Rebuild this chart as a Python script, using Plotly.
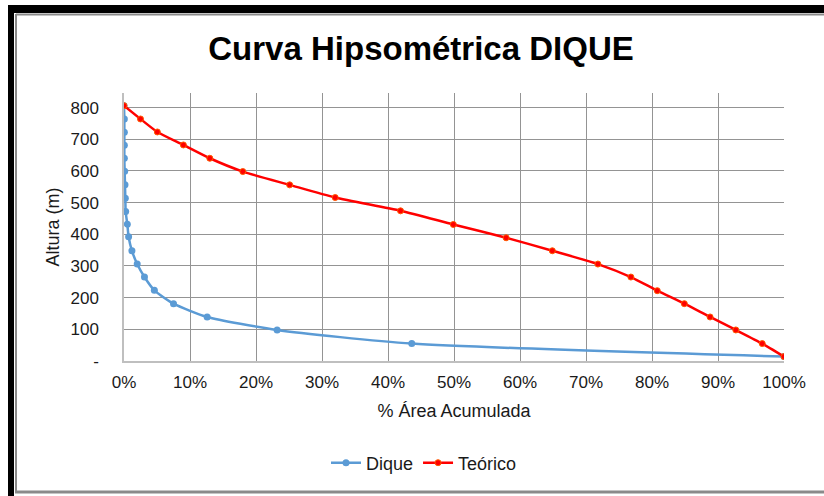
import plotly.graph_objects as go

# Heights (m)
alturas = [806, 764, 723, 682, 640, 598, 556, 516, 474, 431, 389, 348, 306, 265, 222, 181, 139, 98, 55, 14]
teorico_pct = [0, 2.5, 5.05, 9.0, 13.0, 18.0, 25.1, 32.0, 41.9, 49.9, 57.9, 64.9, 71.8, 76.8, 80.8, 84.9, 88.8, 92.7, 96.7, 100]

dique_alt = [806, 764, 722, 681, 640, 599, 556, 514, 472, 432, 392, 348, 306, 265, 223, 181, 139, 98, 55, 14]
dique_pct = [0.0, 0.05, 0.05, 0.05, 0.05, 0.1, 0.15, 0.2, 0.25, 0.5, 0.7, 1.2, 2.0, 3.1, 4.6, 7.5, 12.6, 23.2, 43.6, 100.0]

y_ticks = [0, 100, 200, 300, 400, 500, 600, 700, 800]
y_labels = ["-", "100", "200", "300", "400", "500", "600", "700", "800"]
x_ticks = [0, 10, 20, 30, 40, 50, 60, 70, 80, 90, 100]
x_labels = [f"{v}%" for v in x_ticks]

FONT = "Liberation Sans, Arial, sans-serif"
BLUE = "#5B9BD5"
RED = "#FF0000"

fig = go.Figure()
fig.add_trace(go.Scatter(
    x=dique_pct, y=dique_alt, name="Dique", mode="lines+markers",
    line=dict(color=BLUE, width=2.5, shape="spline", smoothing=0.6),
    marker=dict(color=BLUE, size=7, symbol="circle"),
))
fig.add_trace(go.Scatter(
    x=teorico_pct, y=alturas, name="Teórico", mode="lines+markers",
    line=dict(color=RED, width=2.5, shape="spline", smoothing=0.6),
    marker=dict(color=RED, size=6, symbol="circle", line=dict(color="#FF5A00", width=1)),
))

W, H = 824, 496
L, R, T, B = 124, 784, 93, 361
pw, ph = R - L, B - T

def px(xp):
    return (xp - L) / pw

def py(yp):
    return (B - yp) / ph

shapes = [
    dict(type="line", xref="paper", yref="paper", x0=px(11), x1=px(11), y0=py(8), y1=py(505),
         line=dict(color="black", width=6)),
    dict(type="line", xref="paper", yref="paper", x0=px(8), x1=px(830), y0=py(9), y1=py(9),
         line=dict(color="black", width=8)),
    dict(type="line", xref="paper", yref="paper", x0=px(16), x1=px(16), y0=py(14), y1=py(492),
         line=dict(color="#8a8a8a", width=2)),
    dict(type="line", xref="paper", yref="paper", x0=px(16), x1=px(830), y0=py(14.5), y1=py(14.5),
         line=dict(color="#8a8a8a", width=2)),
    dict(type="line", xref="paper", yref="paper", x0=px(15), x1=px(830), y0=py(492), y1=py(492),
         line=dict(color="#8a8a8a", width=3)),
]

fig.update_layout(
    width=W, height=H,
    margin=dict(l=L, r=W - R, t=T, b=H - B),
    paper_bgcolor="white", plot_bgcolor="white",
    font=dict(family=FONT, color="#1a1a1a"),
    title=dict(text="<b>Curva Hipsométrica DIQUE</b>", x=421 / W, xanchor="center",
               y=1 - 48 / H, yanchor="middle", font=dict(size=33, color="black", family=FONT)),
    xaxis=dict(range=[0, 100], tickvals=x_ticks, ticktext=x_labels,
               showgrid=True, gridcolor="#949494", gridwidth=1,
               showline=True, linecolor="#bfbfbf", linewidth=1.5, zeroline=False,
               tickfont=dict(size=17), ticklabelstandoff=5,
               title=dict(text="% Área Acumulada", font=dict(size=18), standoff=13)),
    yaxis=dict(range=[0, 846], tickvals=y_ticks, ticktext=y_labels,
               showgrid=True, gridcolor="#949494", gridwidth=1,
               showline=True, linecolor="#bfbfbf", linewidth=1.5, zeroline=False,
               tickfont=dict(size=17), ticklabelstandoff=20,
               title=dict(text="Altura (m)", font=dict(size=18), standoff=6)),
    legend=dict(orientation="h", x=px(424), xanchor="center", y=py(463), yanchor="middle",
                font=dict(size=18), bgcolor="rgba(0,0,0,0)", itemwidth=30),
    showlegend=True,
    shapes=shapes,
)

fig.write_html(
    "out.html",
    config={"displayModeBar": False},
    post_script="document.body.style.margin='0';document.body.style.overflow='hidden';",
)
